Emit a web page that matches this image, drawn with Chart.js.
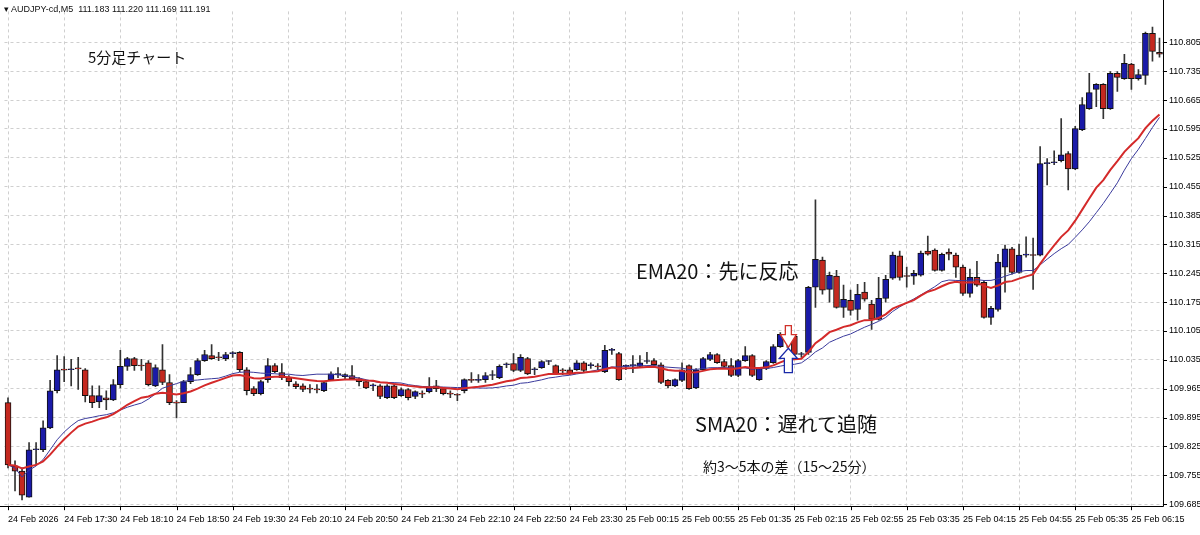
<!DOCTYPE html>
<html><head><meta charset="utf-8">
<script src="https://cdn.jsdelivr.net/npm/chart.js@4.4.1/dist/chart.umd.min.js"></script>
<style>
html,body{margin:0;padding:0;background:#fff;}
#wrap{position:relative;width:1200px;height:535px;}
.t{position:absolute;font-family:"Noto Sans CJK JP",sans-serif;color:#111;white-space:nowrap;line-height:1;}
</style></head><body>
<div id="wrap">
<canvas id="c" width="1200" height="535"></canvas>
<div class="t" style="left:4px;top:4px;font:9px 'Liberation Sans',sans-serif;">&#9662; AUDJPY-cd,M5&nbsp; 111.183 111.220 111.169 111.191</div>
<div class="t" style="left:88px;top:49px;font-size:15px;">5分足チャート</div>
<div class="t" style="left:636px;top:261px;font-size:20px;">EMA20：先に反応</div>
<div class="t" style="left:695px;top:414px;font-size:20px;">SMA20：遅れて追随</div>
<div class="t" style="left:703px;top:459px;font-size:14px;">約3～5本の差（15～25分）</div>
</div>
<script>
const tickLabels=["24 Feb 2026","24 Feb 17:30","24 Feb 18:10","24 Feb 18:50","24 Feb 19:30","24 Feb 20:10","24 Feb 20:50","24 Feb 21:30","24 Feb 22:10","24 Feb 22:50","24 Feb 23:30","25 Feb 00:15","25 Feb 00:55","25 Feb 01:35","25 Feb 02:15","25 Feb 02:55","25 Feb 03:35","25 Feb 04:15","25 Feb 04:55","25 Feb 05:35","25 Feb 06:15"];
const priceTicks=[109.685,109.755,109.825,109.895,109.965,110.035,110.105,110.175,110.245,110.315,110.385,110.455,110.525,110.595,110.665,110.735,110.805];
const O=[
109.931,109.778,109.765,109.702,109.817,109.817,109.870,109.960,110.011,110.011,
110.014,110.011,109.948,109.933,109.943,109.938,109.975,110.019,110.038,110.021,
110.028,109.972,110.011,109.980,109.931,109.931,109.982,109.999,110.033,110.045,
110.041,110.038,110.050,110.053,110.011,109.965,109.953,109.987,110.021,110.004,
109.992,109.977,109.972,109.965,109.963,109.960,109.987,109.999,109.994,109.997,
109.989,109.982,109.972,109.972,109.943,109.972,109.948,109.963,109.946,109.953,
109.958,109.972,109.965,109.953,109.950,109.960,109.987,109.985,109.987,109.997,
109.992,110.023,110.026,110.009,110.038,110.011,110.016,110.031,110.021,110.009,
110.011,110.011,110.028,110.021,110.019,110.006,110.058,110.050,110.019,110.021,
110.019,110.031,110.033,110.023,109.985,109.972,109.985,110.021,109.967,110.011,
110.036,110.048,110.031,110.021,109.997,110.033,110.045,109.987,110.014,110.028,
110.067,110.094,110.092,110.048,110.053,110.211,110.277,110.206,110.238,110.162,
110.179,110.157,110.199,110.170,110.133,110.184,110.233,110.287,110.238,110.238,
110.240,110.299,110.301,110.252,110.296,110.289,110.260,110.196,110.235,110.223,
110.138,110.157,110.260,110.304,110.247,110.289,110.289,110.289,110.511,110.513,
110.518,110.535,110.498,110.593,110.644,110.691,110.703,110.644,110.730,110.717,
110.752,110.717,110.725,110.827,110.781];
const H=[
109.943,109.790,109.773,109.834,109.834,109.887,109.985,110.045,110.043,110.036,
110.041,110.014,109.972,109.972,109.960,109.987,110.058,110.041,110.041,110.036,
110.033,110.023,110.072,109.999,109.936,109.985,110.016,110.038,110.058,110.072,
110.053,110.053,110.055,110.055,110.016,109.970,109.985,110.038,110.026,110.026,
109.997,109.982,109.977,109.975,109.975,109.982,110.006,110.016,110.001,110.021,
109.992,109.985,109.977,109.975,109.975,109.975,109.967,109.965,109.960,109.960,
109.992,109.985,109.967,109.960,109.953,109.989,110.004,109.999,110.004,110.009,
110.023,110.028,110.050,110.048,110.041,110.016,110.033,110.033,110.023,110.014,
110.016,110.033,110.031,110.028,110.026,110.070,110.063,110.053,110.023,110.045,
110.045,110.053,110.038,110.028,109.987,109.989,110.028,110.023,110.014,110.041,
110.053,110.050,110.036,110.038,110.036,110.067,110.048,110.016,110.033,110.072,
110.101,110.099,110.097,110.053,110.213,110.423,110.284,110.248,110.252,110.216,
110.204,110.218,110.223,110.179,110.235,110.240,110.296,110.299,110.260,110.252,
110.299,110.335,110.304,110.294,110.304,110.294,110.265,110.255,110.274,110.228,
110.165,110.291,110.313,110.308,110.316,110.333,110.330,110.552,110.523,110.542,
110.620,110.540,110.601,110.671,110.730,110.705,110.705,110.734,110.734,110.776,
110.754,110.739,110.830,110.842,110.815];
const L=[
109.773,109.717,109.695,109.702,109.778,109.812,109.868,109.955,109.982,109.972,
109.963,109.933,109.919,109.919,109.914,109.936,109.967,110.009,110.009,110.009,
109.972,109.970,109.975,109.926,109.894,109.931,109.977,109.997,110.031,110.036,
110.033,110.033,110.041,110.006,109.950,109.948,109.950,109.980,110.004,109.987,
109.972,109.965,109.958,109.955,109.955,109.958,109.985,109.992,109.989,109.987,
109.972,109.965,109.960,109.941,109.941,109.941,109.946,109.938,109.941,109.943,
109.955,109.958,109.950,109.943,109.936,109.955,109.980,109.980,109.980,109.987,
109.989,110.016,110.006,110.006,109.999,109.999,110.014,110.023,109.999,109.999,
109.999,110.009,110.006,110.014,110.011,110.004,110.048,109.985,110.011,110.004,
110.016,110.026,110.019,109.977,109.967,109.970,109.982,109.963,109.965,110.009,
110.033,110.026,110.014,109.994,109.994,110.031,109.994,109.985,110.011,110.026,
110.065,110.065,110.045,110.041,110.048,110.162,110.194,110.175,110.160,110.138,
110.143,110.131,110.177,110.109,110.131,110.175,110.230,110.228,110.211,110.218,
110.238,110.289,110.250,110.250,110.277,110.235,110.191,110.187,110.213,110.136,
110.121,110.153,110.199,110.243,110.245,110.284,110.206,110.287,110.459,110.508,
110.515,110.447,110.496,110.591,110.642,110.649,110.620,110.642,110.686,110.715,
110.691,110.713,110.703,110.759,110.769];
const C=[
109.780,109.765,109.707,109.817,109.819,109.870,109.960,110.011,110.010,110.012,
110.013,109.948,109.931,109.948,109.938,109.975,110.019,110.038,110.021,110.020,
109.975,110.016,109.980,109.931,109.930,109.982,109.999,110.033,110.048,110.038,
110.040,110.048,110.051,110.011,109.960,109.953,109.982,110.021,110.006,109.992,
109.982,109.970,109.963,109.964,109.962,109.980,110.001,110.000,109.999,109.989,
109.982,109.967,109.973,109.946,109.972,109.943,109.963,109.943,109.958,109.952,
109.967,109.965,109.953,109.952,109.949,109.987,109.985,109.986,109.997,109.998,
110.019,110.024,110.009,110.041,110.001,110.012,110.031,110.032,110.001,110.008,
110.001,110.028,110.009,110.022,110.018,110.058,110.059,109.987,110.020,110.022,
110.028,110.032,110.023,109.980,109.972,109.987,110.011,109.965,110.011,110.038,
110.048,110.028,110.019,109.997,110.033,110.045,109.997,110.014,110.031,110.067,
110.097,110.095,110.048,110.049,110.211,110.279,110.204,110.240,110.162,110.182,
110.155,110.194,110.182,110.133,110.184,110.230,110.289,110.235,110.237,110.245,
110.294,110.291,110.252,110.291,110.291,110.260,110.196,110.235,110.216,110.138,
110.160,110.272,110.304,110.247,110.289,110.290,110.288,110.511,110.512,110.514,
110.532,110.498,110.596,110.654,110.683,110.703,110.644,110.730,110.720,110.754,
110.717,110.727,110.827,110.783,110.776];
const PERIOD=20;

const n=C.length;
const labels=C.map((_,i)=> i%8===0 ? (tickLabels[i/8]||'') : '');
const ema=[],sma=[];
const k=2/(PERIOD+1);
for(let i=0;i<n;i++){
  ema.push(i===0?C[0]:C[i]*k+ema[i-1]*(1-k));
  const s=Math.max(0,i-PERIOD+1);let t=0;for(let j=s;j<=i;j++)t+=C[j];
  sma.push(t/(i-s+1));
}
const UP='#1a1aa8',DN='#c4281f';
const bodyCol=C.map((c,i)=>c>=O[i]?UP:DN);

const arrows={id:'arrows',afterDatasetsDraw(ch){
  const x=ch.scales.x,y=ch.scales.y,g=ch.ctx;
  const cx=x.getPixelForValue(111)+1;
  g.save();g.lineWidth=1.3;g.setLineDash([]);
  let t=y.getPixelForValue(110.118),b=y.getPixelForValue(110.065);
  g.strokeStyle='#d0322a';g.fillStyle='#fff';g.beginPath();
  g.moveTo(cx-3,t);g.lineTo(cx+3,t);g.lineTo(cx+3,t+9);g.lineTo(cx+8,t+9);g.lineTo(cx,b);g.lineTo(cx-8,t+9);g.lineTo(cx-3,t+9);g.closePath();g.fill();g.stroke();
  t=y.getPixelForValue(110.063);b=y.getPixelForValue(110.004);
  g.strokeStyle='#1a2aa8';g.beginPath();
  g.moveTo(cx,t);g.lineTo(cx+9,t+10);g.lineTo(cx+4,t+10);g.lineTo(cx+4,b);g.lineTo(cx-4,b);g.lineTo(cx-4,t+10);g.lineTo(cx-9,t+10);g.closePath();g.fill();g.stroke();
  g.restore();
}};
const frame={id:'frame',afterDraw(ch){
  const a=ch.chartArea,g=ch.ctx,x=ch.scales.x,y=ch.scales.y;
  g.save();g.setLineDash([]);g.strokeStyle='#000';g.lineWidth=1;g.beginPath();
  g.moveTo(Math.round(a.right)+0.5,0);g.lineTo(Math.round(a.right)+0.5,Math.round(a.bottom)+0.5);g.lineTo(0,Math.round(a.bottom)+0.5);
  priceTicks.forEach(v=>{const py=Math.round(y.getPixelForValue(v))+0.5;g.moveTo(a.right,py);g.lineTo(a.right+4,py);});
  labels.forEach((l,i)=>{if(l){const px=Math.round(x.getPixelForValue(i))+0.5;g.moveTo(px,a.bottom);g.lineTo(px,a.bottom+4);}});
  g.stroke();g.restore();
}};

new Chart(document.getElementById('c'),{
  data:{labels,datasets:[
    {type:'bar',data:L.map((l,i)=>[l,H[i]]),backgroundColor:'#333',barThickness:1,grouped:false,order:3},
    {type:'bar',data:O.map((o,i)=>[o,C[i]]),backgroundColor:bodyCol,borderColor:'#111',borderWidth:1,borderSkipped:false,barThickness:6,minBarLength:1,grouped:false,order:2},
    {type:'line',data:sma,borderColor:'#3a3a9c',borderWidth:1,pointRadius:0,tension:0,order:1},
    {type:'line',data:ema,borderColor:'#d42a2a',borderWidth:2,pointRadius:0,tension:0,order:0}
  ]},
  options:{responsive:false,animation:false,maintainAspectRatio:false,
    layout:{padding:{top:0,left:0,right:0,bottom:2}},
    plugins:{legend:{display:false},tooltip:{enabled:false}},
    scales:{
      x:{offset:true,border:{display:false,dash:[3,3]},
        grid:{offset:false,color:(c)=>labels[c.index]!==''?'#cfcfcf':'transparent',drawTicks:false},
        ticks:{autoSkip:false,maxRotation:0,align:'start',padding:8,color:'#000',font:{family:'Liberation Sans',size:9},callback:(v,i)=>labels[i]}},
      y:{position:'right',min:109.680,max:110.880,border:{display:false,dash:[3,3]},
        afterBuildTicks:(s)=>{s.ticks=priceTicks.map(v=>({value:v}));},
        afterFit:(s)=>{s.width=37;},
        grid:{color:'#cfcfcf',drawTicks:false},
        ticks:{padding:6,color:'#000',font:{family:'Liberation Sans',size:9},callback:(v)=>v.toFixed(3)}}
    }
  },
  plugins:[arrows,frame]
});
</script></body></html>
